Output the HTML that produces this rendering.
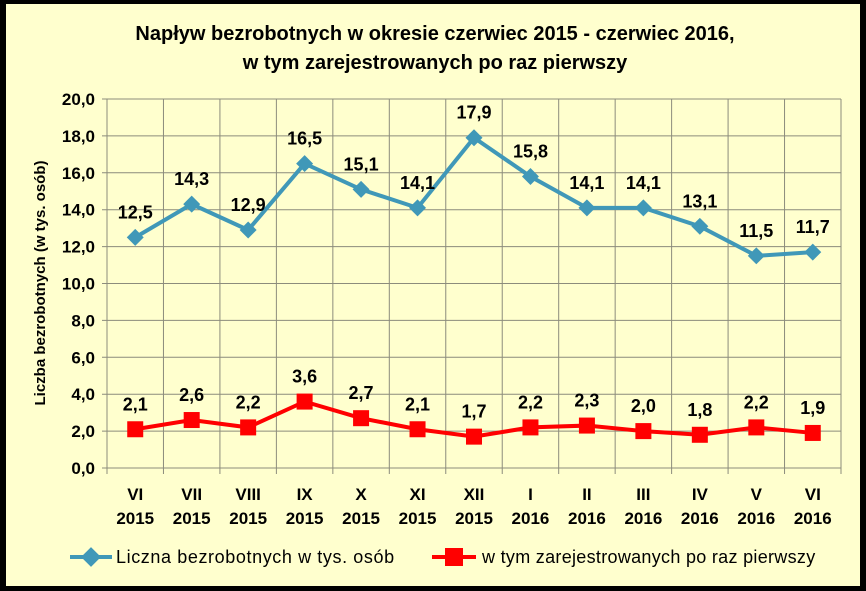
<!DOCTYPE html>
<html><head><meta charset="utf-8"><style>
html,body{margin:0;padding:0;background:#000}
svg{display:block}
text{font-family:"Liberation Sans",Calibri,sans-serif}
</style></head><body>
<svg id="chart" width="866" height="591" xmlns="http://www.w3.org/2000/svg">
<rect x="0" y="0" width="866" height="591" fill="#000"/>
<rect x="6" y="4" width="854" height="582" fill="#FFFFCE"/>
<text x="435" y="40" text-anchor="middle" font-size="20" font-weight="bold">Napływ  bezrobotnych w okresie czerwiec 2015 - czerwiec 2016,</text>
<text x="435" y="69" text-anchor="middle" font-size="20" font-weight="bold">w tym zarejestrowanych po raz pierwszy</text>
<text transform="translate(45,283) rotate(-90)" text-anchor="middle" font-size="15" font-weight="bold">Liczba bezrobotnych (w tys. osób)</text>
<g id="grid"></g><g id="axes"></g><g id="series"></g>
<g>
<line x1="70" y1="557" x2="112" y2="557" stroke="#4098B8" stroke-width="4"/>
<rect x="84" y="550" width="14" height="14" fill="#4098B8" transform="rotate(45 91 557)"/>
<text x="116" y="563" font-size="18" letter-spacing="0.6">Liczna bezrobotnych w tys. osób</text>
<line x1="432" y1="557" x2="476" y2="557" stroke="#FF0000" stroke-width="4"/>
<rect x="445" y="548" width="18" height="18" fill="#FF0000"/>
<text x="482" y="563" font-size="18" letter-spacing="0.3">w tym zarejestrowanych po raz pierwszy</text>
</g>
</svg>
<script>
const categories = ["VI|2015","VII|2015","VIII|2015","IX|2015","X|2015","XI|2015","XII|2015","I|2016","II|2016","III|2016","IV|2016","V|2016","VI|2016"];
const totalValues = [12.5,14.3,12.9,16.5,15.1,14.1,17.9,15.8,14.1,14.1,13.1,11.5,11.7];
const firstTimeValues = [2.1,2.6,2.2,3.6,2.7,2.1,1.7,2.2,2.3,2.0,1.8,2.2,1.9];
const yTicks = [0,2,4,6,8,10,12,14,16,18,20];
const NS="http://www.w3.org/2000/svg";
const L=107,R=841,T=99,B=468,yMax=20;
const bw=(R-L)/categories.length;
const xs=i=>L+bw*(i+0.5);
const ys=v=>B-(v/yMax)*(B-T);
function mk(tag,attrs,parent){const e=document.createElementNS(NS,tag);for(const k in attrs)e.setAttribute(k,attrs[k]);parent.appendChild(e);return e;}
const grid=document.getElementById('grid'),axes=document.getElementById('axes'),ser=document.getElementById('series');
yTicks.forEach(t=>{
 const y=ys(t);
 const l=mk('line',{x1:L-5,x2:R,y1:y,y2:y,stroke:'#8C8C7C','stroke-width':1},grid);
 
 
 const tx=mk('text',{x:L-12,y:y+6,'text-anchor':'end','font-size':17,'font-weight':'bold'},axes);
 tx.textContent=t.toFixed(1).replace('.',',');
 
 
});
for(let i=0;i<=categories.length;i++){
 const x=L+bw*i;
 const l=mk('line',{x1:x,x2:x,y1:T,y2:B+6,stroke:'#8C8C7C','stroke-width':1},grid);
 
 
}
categories.forEach((c,i)=>{
 const [a,b]=c.split('|');
 const t1=mk('text',{x:xs(i),y:500,'text-anchor':'middle','font-size':17,'font-weight':'bold'},axes);
 t1.textContent=a;
 
 
 const t2=mk('text',{x:xs(i),y:524,'text-anchor':'middle','font-size':17,'font-weight':'bold'},axes);
 t2.textContent=b;
 
 
});
function series(vals,color,kind,name){
 const p=mk('polyline',{points:vals.map((v,i)=>xs(i)+','+ys(v)).join(' '),fill:'none',stroke:color,'stroke-width':4},ser);
 
 
 vals.forEach((v,i)=>{
  const x=xs(i),y=ys(v);let m;
  if(kind==='d'){m=mk('rect',{x:x-6,y:y-6,width:12,height:12,fill:color,transform:`rotate(45 ${x} ${y})`},ser);}
  else{m=mk('rect',{x:x-8,y:y-8,width:16,height:16,fill:color},ser);}
  
  
  const t=mk('text',{x:x,y:y-19,'text-anchor':'middle','font-size':18,'font-weight':'bold'},ser);
  t.textContent=v.toFixed(1).replace('.',',');
  
  
 });
}
series(totalValues,'#4098B8','d','total');
series(firstTimeValues,'#FF0000','s','first-time');
</script>
</body></html>
